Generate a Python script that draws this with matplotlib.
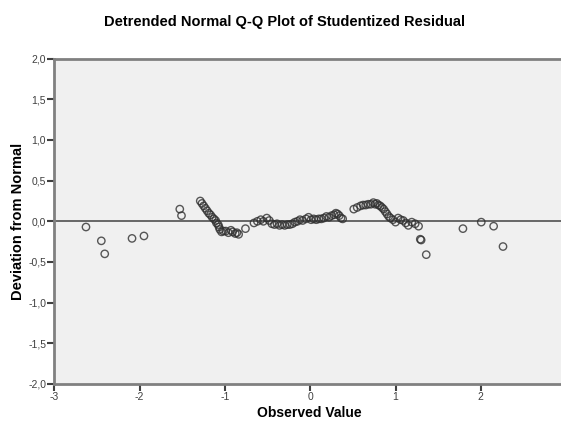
# Detrended normal Q-Q plot of the studentized residuals
import matplotlib
matplotlib.use('Agg')
import matplotlib.pyplot as plt
from matplotlib.ticker import FuncFormatter

plt.rcParams['font.family'] = ['Liberation Sans', 'DejaVu Sans']
plt.rcParams['axes.unicode_minus'] = False

# observed values and their deviation from normal
observed = [-2.63, -2.45, -2.41, -2.09, -1.95, -1.53, -1.51,
            -1.29, -1.27, -1.25, -1.23, -1.21, -1.19, -1.17, -1.15, -1.13, -1.11,
            -1.10, -1.08, -1.07, -1.06, -1.04, -1.02,
            -0.99, -0.96, -0.93, -0.91, -0.88, -0.86, -0.84, -0.76,
            -0.66, -0.62, -0.58, -0.55, -0.51, -0.48, -0.45, -0.42, -0.39, -0.36,
            -0.33, -0.30, -0.27, -0.24, -0.21, -0.18, -0.15, -0.12, -0.09, -0.05,
            -0.02, 0.01, 0.04, 0.07, 0.10, 0.13, 0.16, 0.19, 0.22, 0.25, 0.28,
            0.30, 0.32, 0.34, 0.36, 0.38,
            0.51, 0.55, 0.59, 0.62, 0.65, 0.68, 0.71, 0.74, 0.76, 0.78, 0.80,
            0.82, 0.84, 0.86, 0.88, 0.90, 0.92, 0.94, 0.97, 1.00, 1.03, 1.06,
            1.09, 1.12, 1.15, 1.19, 1.23, 1.27, 1.29, 1.30, 1.36,
            1.79, 2.005, 2.15, 2.26]
deviation = [-0.07, -0.24, -0.40, -0.21, -0.18, 0.15, 0.07,
             0.25, 0.22, 0.19, 0.16, 0.13, 0.10, 0.08, 0.05, 0.03, 0.01,
             -0.02, -0.04, -0.07, -0.10, -0.13, -0.12,
             -0.12, -0.14, -0.11, -0.13, -0.15, -0.14, -0.16, -0.09,
             -0.02, 0.00, 0.02, 0.00, 0.04, 0.01, -0.03, -0.04, -0.03, -0.05,
             -0.04, -0.05, -0.04, -0.04, -0.03, -0.01, 0.00, 0.02, 0.01, 0.03,
             0.05, 0.02, 0.03, 0.02, 0.03, 0.03, 0.04, 0.06, 0.05, 0.07, 0.08,
             0.10, 0.09, 0.07, 0.04, 0.03,
             0.15, 0.17, 0.19, 0.20, 0.20, 0.21, 0.21, 0.23, 0.21, 0.22, 0.20,
             0.19, 0.17, 0.15, 0.12, 0.09, 0.06, 0.04, 0.02, -0.01, 0.04, 0.02,
             0.01, -0.02, -0.05, -0.01, -0.03, -0.06, -0.22, -0.23, -0.41,
             -0.09, -0.01, -0.06, -0.31]

x_ticks = [-3, -2, -1, 0, 1, 2]
y_ticks = [-2.0, -1.5, -1.0, -0.5, 0.0, 0.5, 1.0, 1.5, 2.0]

fig = plt.figure(figsize=(5.61, 4.25), dpi=100)
ax = fig.add_axes([0.097, 0.0965, 0.903, 0.7655])
ax.set_facecolor('#f0f0f0')

ax.axhline(0, color='#505050', lw=1.2, zorder=1)
ax.scatter(observed, deviation, s=28, facecolors='none', edgecolors='#303030',
           linewidths=1.0, alpha=0.8, zorder=2)

ax.set_xlim(-3, 2.94)
ax.set_ylim(-2.0, 2.0)
ax.set_xticks(x_ticks)
ax.set_yticks(y_ticks)
ax.yaxis.set_major_formatter(FuncFormatter(lambda v, p: ('%.1f' % v).replace('.', ',')))

for side in ['left', 'bottom', 'top']:
    ax.spines[side].set_color('#808080')
    ax.spines[side].set_linewidth(2)
ax.spines['right'].set_visible(False)
ax.tick_params(direction='out', length=5, width=1.5, color='#404040',
               labelsize=7.5, labelcolor='#404040', pad=1)

ax.set_xlabel('Observed Value', fontsize=10, fontweight='bold', va='center')
ax.xaxis.set_label_coords(0.503, -0.089)
ax.set_ylabel('Deviation from Normal', fontsize=10.5, fontweight='bold', va='center')
ax.yaxis.set_label_coords(-0.072, 0.5)
fig.suptitle('Detrended Normal Q-Q Plot of Studentized Residual', x=0.508, y=0.965,
             fontsize=10.5, fontweight='bold')

fig.savefig('out.png', dpi=100)
